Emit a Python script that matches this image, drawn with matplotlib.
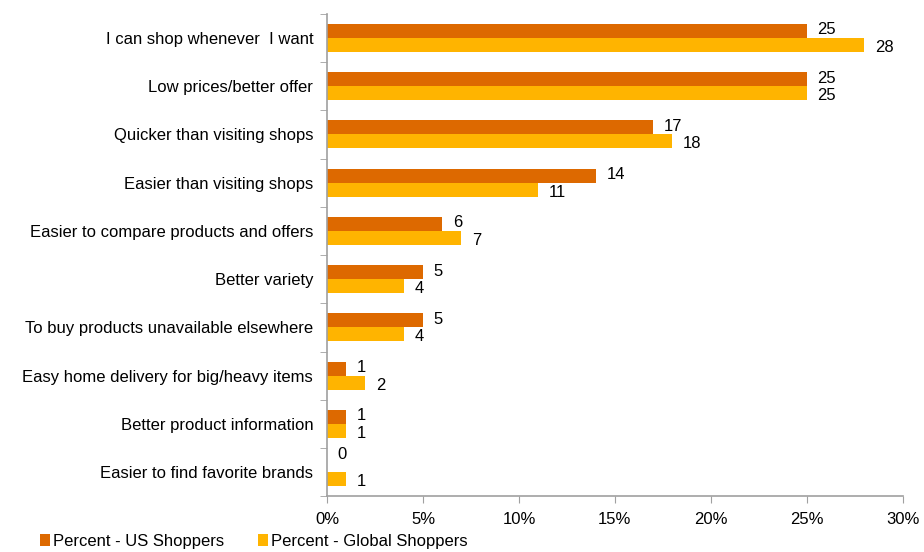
import numpy as np
import matplotlib
matplotlib.use('Agg')
from matplotlib import pyplot as plt
from matplotlib.ticker import FuncFormatter

plt.rcParams['font.family'] = ['Liberation Sans', 'DejaVu Sans']

categories = ['I can shop whenever  I want', 'Low prices/better offer',
              'Quicker than visiting shops', 'Easier than visiting shops',
              'Easier to compare products and offers', 'Better variety',
              'To buy products unavailable elsewhere',
              'Easy home delivery for big/heavy items',
              'Better product information', 'Easier to find favorite brands']
us = [25, 25, 17, 14, 6, 5, 5, 1, 1, 0]
glob = [28, 25, 18, 11, 7, 4, 4, 2, 1, 1]
xticks = [0, 5, 10, 15, 20, 25, 30]

c_us = '#DD6900'
c_gl = '#FFB400'

fig = plt.figure(figsize=(9.24, 5.52), dpi=100)
ax = fig.add_axes([0.354, 0.101, 0.623, 0.874])

y = np.arange(len(categories))
h = 0.29
b1 = ax.barh(y - h / 2, us, height=h, color=c_us, label='Percent - US Shoppers')
b2 = ax.barh(y + h / 2, glob, height=h, color=c_gl, label='Percent - Global Shoppers')
# labels sit a little outward from the bar centre, like the excel original
for bars, dy in ((b1, -0.02), (b2, 0.05)):
    for r in bars:
        w = r.get_width()
        yy = r.get_y() + r.get_height() / 2 + dy
        if w == 0:
            yy -= 0.2
        ax.text(w + 0.55, yy, '%d' % w, va='center', ha='left', fontsize=12)

ax.set_ylim(len(categories) - 0.5, -0.5)
ax.set_xlim(0, 30)
ax.set_yticks(y)
ax.set_yticklabels(categories, fontsize=12)
ax.set_yticks(np.arange(len(categories) + 1) - 0.5, minor=True)
ax.tick_params(axis='y', which='major', length=0, pad=10)
ax.tick_params(axis='y', which='minor', length=5, color='#A0A0A0')
ax.set_xticks(xticks)
ax.xaxis.set_major_formatter(FuncFormatter(lambda v, p: '%d%%' % v))
ax.tick_params(axis='x', length=5, color='#A0A0A0', labelsize=12, pad=6)
for s in ['top', 'right']:
    ax.spines[s].set_visible(False)
for s in ['left', 'bottom']:
    ax.spines[s].set_color('#A0A0A0')
    ax.spines[s].set_linewidth(1.2)

fig.legend(handles=[b1, b2], loc='lower left', bbox_to_anchor=(0.027, -0.022),
           ncol=2, frameon=False, fontsize=12, handlelength=0.6,
           handleheight=0.75, handletextpad=0.2, columnspacing=2.0)

fig.savefig('out.png', dpi=100)
